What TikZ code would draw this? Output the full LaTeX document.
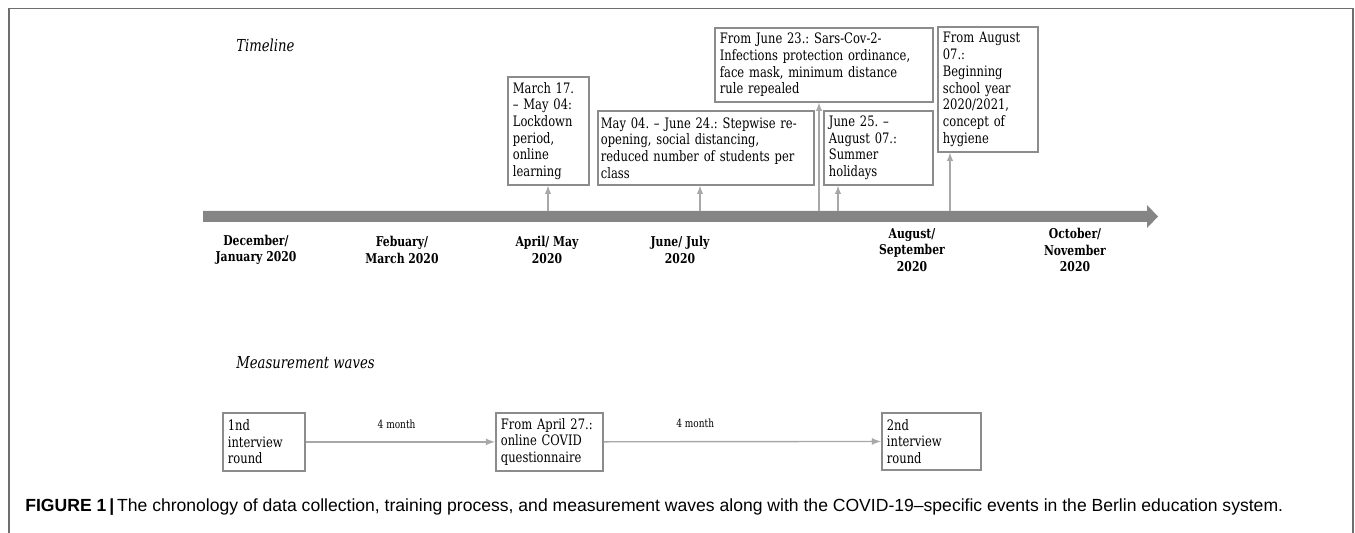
\documentclass[tikz,border=0pt]{standalone}
\usepackage{fontspec}
\setmainfont{DejaVu Serif}[FakeStretch=0.80]
\newfontfamily\capfont{Liberation Sans}
\usepackage{tikz}
\usetikzlibrary{positioning,arrows}
\frenchspacing

\definecolor{boxgray}{HTML}{8C8C8C}
\definecolor{bargray}{HTML}{858585}
\definecolor{linegray}{HTML}{A8A8A8}
\definecolor{framegray}{HTML}{6E6E6E}

\begin{document}
\begin{tikzpicture}[x=0.02cm, y=-0.02cm,
		evbox/.style={draw=boxgray, line width=1pt, anchor=north west, align=left, inner xsep=0.10cm, inner ysep=2pt, font=\fontsize{8.2}{9.5}\selectfont},
		date/.style={align=center, font=\fontsize{7.7}{9.4}\selectfont\bfseries},
		ttl/.style={anchor=west, inner sep=0pt, font=\fontsize{9.4}{10}\selectfont\itshape},
		evline/.style={draw=linegray, line width=0.6pt, -latex},
		mline/.style={draw=linegray, line width=0.8pt, -latex}]
	\useasboundingbox (0,0) rectangle (1355,533);
	%\draw[help lines, step=0.5cm] (0,0) grid (1355,533);
	\draw[framegray, line width=0.8pt] (9,533) -- (9,8.5) -- (1353,8.5) -- (1353,533);

	% titles
	\node[ttl] (tlTitle) at (236,45) {Timeline};
	\node[ttl] (mwTitle) at (236,363) {Measurement waves};

	% timeline bar
	\fill[bargray] (203,211) -- (1147,211) -- (1147,205) -- (1158,216.5) -- (1147,228) -- (1147,222) -- (203,222) -- cycle;

	% dates
	\node[date] (decjan) at (256,250) {December/\\January 2020};
	\node[date] (febmar) at (402,250) {Febuary/\\March 2020};
	\node[date] (aprmay) at (547,250) {April/ May\\2020};
	\node[date] (junjul) at (680,250) {June/ July\\2020};
	\node[date] (augsep) at (912,250) {August/\\September\\2020};
	\node[date] (octnov) at (1075,250) {October/\\November\\2020};

	% events
	\node[evbox, text width=1.42cm, minimum width=1.62cm, minimum height=2.16cm] (lockdown) at (507,76)
		{March 17.\\ -- May 04:\\ Lockdown\\ period,\\ online\\ learning};
	\node[evbox, text width=4.20cm, minimum width=4.32cm, minimum height=1.48cm, inner xsep=0.06cm] (reopen) at (597,110)
		{May 04. -- June 24.: Stepwise re-\\opening, social distancing,\\reduced number of students per\\class};
	\node[evbox, text width=4.16cm, minimum width=4.36cm, minimum height=1.48cm] (ordinance) at (714,27)
		{From June 23.: Sars-Cov-2-\\Infections protection ordinance,\\face mask, minimum distance\\rule repealed};
	\node[evbox, text width=1.98cm, minimum width=2.18cm, minimum height=1.48cm] (holidays) at (823,110)
		{June 25. --\\August 07.:\\Summer\\holidays};
	\node[evbox, text width=1.80cm, minimum width=2.00cm, minimum height=2.50cm] (schoolyear) at (937,26)
		{From August\\07.:\\Beginning\\school year\\2020/2021,\\concept of\\hygiene};

	\coordinate (onLockdown) at (548,211);
	\coordinate (onReopen) at (700,211);
	\coordinate (onOrdinance) at (819,211);
	\coordinate (onHolidays) at (838,211);
	\coordinate (onSchoolyear) at (950,211);
	\draw[evline] (onLockdown) -- (onLockdown |- lockdown.south);
	\draw[evline] (onReopen) -- (onReopen |- reopen.south);
	\draw[evline] (onOrdinance) -- (onOrdinance |- ordinance.south);
	\draw[evline] (onHolidays) -- (onHolidays |- holidays.south);
	\draw[evline] (onSchoolyear) -- (onSchoolyear |- schoolyear.south);

	% measurement waves
	\node[evbox, text width=1.44cm, minimum width=1.64cm, minimum height=1.16cm] (wave1) at (222,412)
		{1nd\\interview\\round};
	\node[evbox, text width=1.94cm, minimum width=2.14cm, minimum height=1.16cm] (covid) at (495,412)
		{From April 27.:\\online COVID\\questionnaire};
	\node[evbox, text width=1.78cm, minimum width=1.98cm, minimum height=1.14cm] (wave2) at (881,412)
		{2nd\\interview\\round};
	\draw[mline] (wave1) -- node[pos=0.48, above=4pt, font=\fontsize{6.4}{7}\selectfont] {4 month} (covid);
	\draw[mline] (covid) -- node[pos=0.33, above=4pt, font=\fontsize{6.4}{7}\selectfont] {4 month} (wave2);

	% caption
	\node[anchor=west, inner sep=0pt, font=\capfont\fontsize{10}{12}\selectfont] (caption) at (25,507)
		{\textbf{FIGURE 1}\,\textbf{|}\,The chronology of data collection, training process, and measurement waves along with the COVID-19–specific events in the Berlin education system.};
\end{tikzpicture}
\end{document}
